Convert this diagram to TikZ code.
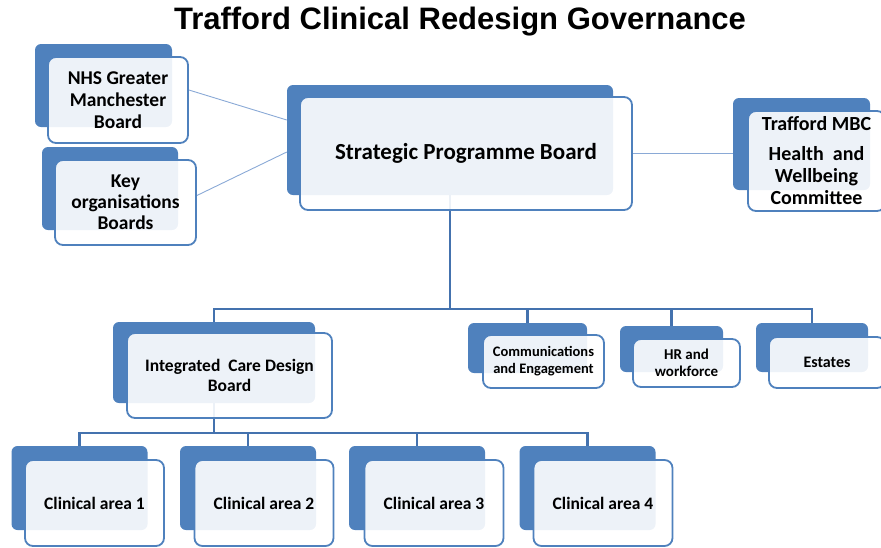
\documentclass[tikz,border=0pt]{standalone}
\usepackage{fontspec}
\setmainfont{Carlito}
\newfontfamily\headfont{Liberation Sans}
\usetikzlibrary{backgrounds}

\definecolor{boardblue}{HTML}{4F81BD}
\definecolor{treeblue}{HTML}{4472AE}
\definecolor{linkblue}{HTML}{8AA9D6}

\newcommand{\boardfont}[2]{\fontsize{#1}{#2}\selectfont\bfseries}

\tikzset{
  back/.style={fill=boardblue,rounded corners=6pt,inner sep=0pt},
  board/.style={draw=boardblue,line width=1.8pt,fill=white,fill opacity=.9,
    text opacity=1,rounded corners=8pt,inner sep=0pt,align=center},
  tree/.style={treeblue,line width=2.2pt},
  link/.style={linkblue,line width=.9pt}
}

\begin{document}
\begin{tikzpicture}[x=1pt,y=-1pt]
  \useasboundingbox (0,0) rectangle (881,547);
  \node[font=\headfont\fontsize{31}{33}\selectfont\bfseries] (title) at (460,22)
    {Trafford Clinical Redesign Governance};

  % solid blocks sitting behind every board
  \node[back,minimum width=137pt,minimum height=83pt] (nhsback) at (103.5,85.5) {};
  \node[back,minimum width=136pt,minimum height=83pt] (keyback) at (110,188.5) {};
  \node[back,minimum width=326pt,minimum height=110pt] (spbback) at (450,140) {};
  \node[back,minimum width=137pt,minimum height=92pt] (mbcback) at (801.5,144) {};
  \node[back,minimum width=202pt,minimum height=81pt] (icdbback) at (214,362.5) {};
  \node[back,minimum width=119pt,minimum height=50pt] (commsback) at (527.5,348) {};
  \node[back,minimum width=103pt,minimum height=46pt] (hrback) at (671.5,349) {};
  \node[back,minimum width=112pt,minimum height=49pt] (estback) at (812,347.5) {};
  \foreach \i/\x in {1/79.5,2/248,3/417,4/587.5}
    \node[back,minimum width=136pt,minimum height=84pt] (cback\i) at (\x,488) {};

  % the boards themselves
  \node[board,minimum width=140pt,minimum height=86pt,font=\boardfont{19.5}{22}]
    (nhs) at (118,100) {NHS Greater\\Manchester\\Board};
  \node[board,minimum width=141pt,minimum height=85pt,font=\boardfont{19.5}{21}]
    (key) at (125.5,202.5) {Key\\organisations\\Boards};
  \node[board,minimum width=332pt,minimum height=113pt,font=\boardfont{23}{25}]
    (spb) at (466,153.5) {Strategic Programme Board};
  \node[board,minimum width=137pt,minimum height=100pt,font=\boardfont{20}{22}]
    (mbc) at (816.5,161) {Trafford MBC\\[8pt]Health~ and\\Wellbeing\\Committee};
  \node[board,minimum width=205pt,minimum height=85pt,font=\boardfont{17.5}{20}]
    (icdb) at (229.5,375.5) {Integrated~ Care Design\\Board};
  \node[board,minimum width=121pt,minimum height=53pt,font=\boardfont{14.5}{17}]
    (comms) at (543.5,361.5) {Communications\\and Engagement};
  \node[board,minimum width=107pt,minimum height=48pt,font=\boardfont{15}{17}]
    (hr) at (686.5,363) {HR and\\workforce};
  \node[board,minimum width=116pt,minimum height=51pt,font=\boardfont{16}{18}]
    (est) at (827,362.5) {Estates};
  \foreach \i/\x in {1/94.5,2/264,3/434,4/603}
    \node[board,minimum width=139pt,minimum height=86pt,font=\boardfont{17.5}{20}]
      (clin\i) at (\x,503) {Clinical area \i};

  % connectors run underneath the boards
  \begin{scope}[on background layer]
    \coordinate (upper) at (0,309);
    \coordinate (lower) at (0,433);
    \draw[tree] (spbback.south) -- (spbback.south |- upper);
    \draw[tree] (icdbback.north) -- (icdbback.north |- upper)
      -- (estback.north |- upper) -- (estback.north);
    \foreach \n in {commsback,hrback}
      \draw[tree] (\n.north) -- (\n.north |- upper);
    \draw[tree] (icdbback.south) -- (icdbback.south |- lower);
    \draw[tree] (cback1.north) -- (cback1.north |- lower)
      -- (cback4.north |- lower) -- (cback4.north);
    \foreach \i in {2,3}
      \draw[tree] (cback\i.north) -- (cback\i.north |- lower);
    \draw[link] ([yshift=10pt]nhs.east) -- ([yshift=20pt]spbback.west);
    \draw[link] ([yshift=7pt]key.east) -- ([yshift=-12pt]spbback.west);
    \draw[link] (spb.east) -- (spb.east -| mbc.west);
  \end{scope}
\end{tikzpicture}
\end{document}
